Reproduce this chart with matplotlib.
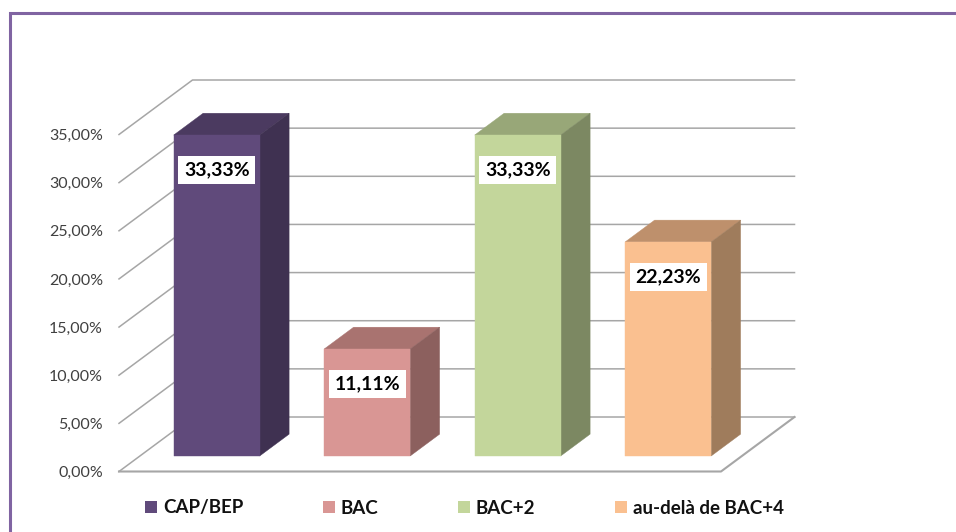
#!/usr/bin/env python3
"""3D-look column chart of diploma levels, drawn on a flat axes with sheared faces."""

import matplotlib
matplotlib.use("Agg")
import matplotlib.pyplot as plt
from matplotlib.lines import Line2D
from matplotlib.patches import Patch, Polygon

categories = ["CAP/BEP", "BAC", "BAC+2", "au-delà de BAC+4"]
values = [33.33, 11.11, 33.33, 22.23]
value_labels = ["33,33%", "11,11%", "33,33%", "22,23%"]
ticks = [0, 5, 10, 15, 20, 25, 30, 35]
tick_labels = ["0,00%", "5,00%", "10,00%", "15,00%", "20,00%", "25,00%", "30,00%", "35,00%"]

front_colors = ["#604A7B", "#D99694", "#C3D69B", "#FAC090"]
top_colors = ["#4B3A60", "#A97370", "#98A778", "#BE906C"]
side_colors = ["#3F3151", "#8C605E", "#7C8862", "#9F7C5C"]

GRID = "#A6A6A6"
FRAME = "#8064A2"
W, H = 956, 532

# full depth of the floor, in data units (1 category = 150.5 px, 1% = 9.63 px)
DEPTH_X = 73.5 / 150.5
DEPTH_Y = 54.5 / 9.63
BAR_WIDTH = 86 / 150.5
BAR_CENTER = 0.51
BAR_FRONT = 0.285
BAR_BACK = 0.685


def proj(x, y, depth):
    """Shear a point (x, y) back by depth (0 = front of floor, 1 = back wall)."""
    return x + depth * DEPTH_X, y + depth * DEPTH_Y


plt.rcParams["font.family"] = ["Lato", "DejaVu Sans"]
fig = plt.figure(figsize=(W / 100, H / 100), dpi=100, facecolor="white")
ax = fig.add_axes([119 / W, 1 - 471.5 / H, 602 / W, 337 / H])
ax.set_xlim(0, 4)
ax.set_ylim(0, 35)
for spine in ax.spines.values():
    spine.set_visible(False)
ax.set_xticks([])
ax.set_yticks(ticks)
ax.set_yticklabels(tick_labels, fontsize=11.5, color="#404040")
ax.tick_params(axis="y", length=0, pad=11.5)

# back wall and left wall gridlines
for t in ticks:
    x0, y0 = proj(0, t, 0)
    x1, y1 = proj(0, t, 1)
    x2, y2 = proj(4, t, 1)
    ax.plot([x0, x1, x2], [y0, y1, y2], color=GRID, lw=1.1, clip_on=False, zorder=1)

# floor edges
x1, y1 = proj(4, 0, 1)
ax.plot([0, 4, x1], [0, 0, y1], color=GRID, lw=1.5, clip_on=False, zorder=1)

for i, (val, label) in enumerate(zip(values, value_labels)):
    left = i + BAR_CENTER - BAR_WIDTH / 2
    right = left + BAR_WIDTH
    # top face
    ax.add_patch(Polygon([proj(left, val, BAR_FRONT), proj(right, val, BAR_FRONT),
                          proj(right, val, BAR_BACK), proj(left, val, BAR_BACK)],
                         facecolor=top_colors[i], edgecolor=top_colors[i], lw=0.3,
                         clip_on=False, zorder=3))
    # side face
    ax.add_patch(Polygon([proj(right, 0, BAR_FRONT), proj(right, 0, BAR_BACK),
                          proj(right, val, BAR_BACK), proj(right, val, BAR_FRONT)],
                         facecolor=side_colors[i], edgecolor=side_colors[i], lw=0.3,
                         clip_on=False, zorder=3))
    # front face
    ax.add_patch(Polygon([proj(left, 0, BAR_FRONT), proj(right, 0, BAR_FRONT),
                          proj(right, val, BAR_FRONT), proj(left, val, BAR_FRONT)],
                         facecolor=front_colors[i], edgecolor=front_colors[i], lw=0.3,
                         clip_on=False, zorder=3))
    # value label
    lx, ly = proj(i + BAR_CENTER, val, BAR_FRONT)
    ax.annotate(label, (lx, ly), xytext=(0, -25), textcoords="offset points",
                ha="center", va="center", fontsize=14, fontweight="bold", color="black",
                bbox=dict(facecolor="white", edgecolor="none", pad=4), zorder=4,
                annotation_clip=False)

handles = [Patch(facecolor=c, edgecolor="none") for c in front_colors]
ax.legend(handles, categories, loc="center left", bbox_to_anchor=(145 / W, 1 - 508 / H),
          bbox_transform=fig.transFigure, ncol=4, frameon=False,
          prop=dict(weight="bold", size=13.5), handlelength=0.65, handleheight=0.65,
          handletextpad=0.3, columnspacing=4.25, labelcolor="#111111",
          borderpad=0, borderaxespad=0)

# purple border, top and left only
fig.add_artist(Line2D([10 / W, 10 / W, 1], [0, 1 - 13 / H, 1 - 13 / H],
                      color=FRAME, lw=2.2, solid_joinstyle="miter"))

fig.savefig("out.png", dpi=100)
